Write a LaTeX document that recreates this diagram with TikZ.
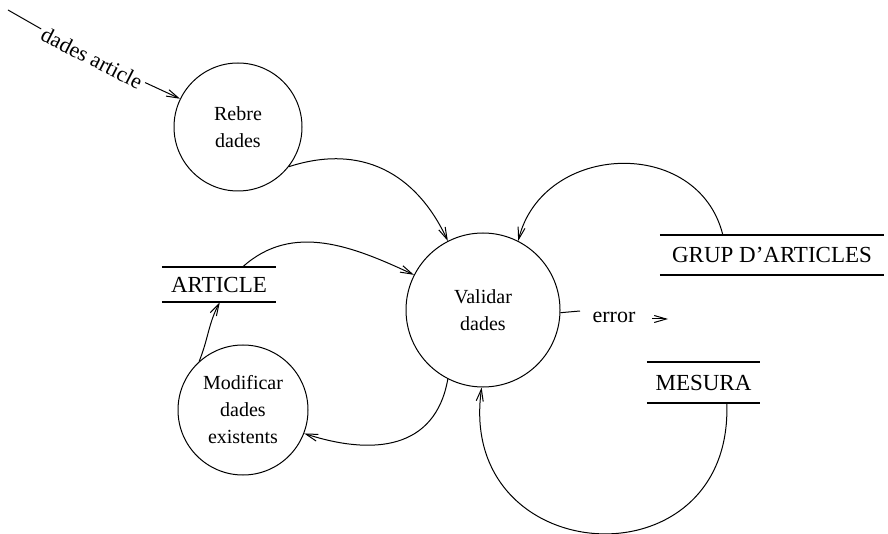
\documentclass[tikz,border=0pt]{standalone}
\usepackage{fontspec}
\setmainfont{Liberation Serif}
\usetikzlibrary{arrows.meta}
\begin{document}
\begin{tikzpicture}[x=1pt,y=1pt,
  conn/.style={line width=1pt},
  arr/.style={conn,-{Straight Barb[length=12pt,width=7pt,line width=1pt]}},
  process/.style={circle,draw,line width=1pt,inner sep=0pt,align=center,
    font=\fontsize{20}{27}\selectfont},
  store/.style={inner sep=0pt,font=\fontsize{23}{26}\selectfont},
  storeline/.style={line width=2.4pt},
  flowlabel/.style={inner sep=3pt,font=\fontsize{22}{24}\selectfont}]
\useasboundingbox (0,0) rectangle (888,533);

% processes
\node[process,minimum size=128pt] (rebre) at (238,406) {Rebre\\dades};
\node[process,minimum size=154pt] (valid) at (483,223) {Validar\\dades};
\node[process,minimum size=130pt] (modif) at (243,123) {Modificar\\dades\\existents};

% data stores
\node[store,minimum width=114pt,minimum height=35pt] (article) at (219,248.5) {ARTICLE};
\node[store,minimum width=224pt,minimum height=40pt] (grup) at (772,278) {GRUP D'ARTICLES};
\node[store,minimum width=113pt,minimum height=41pt] (mesura) at (703.5,150.5) {MESURA};
\foreach \s in {article,grup,mesura}
  \draw[storeline] (\s.north west) -- (\s.north east)
                   (\s.south west) -- (\s.south east);

% incoming flow
\coordinate (in0) at (8,523);
\node[flowlabel,rotate=-27] (lbl) at (92,475) {dades article};
\draw[arr] (in0) -- (lbl) -- (rebre.154);

% flows between processes and stores
\draw[arr] (rebre.-38) to[out=18,in=115,looseness=1.1] (valid.117);

\coordinate (gtop) at ([xshift=63pt]grup.north west);
\draw[arr] (gtop) .. controls +(104:102) and +(76:102) .. (valid.63);

\coordinate (atop) at ([xshift=81pt]article.north west);
\draw[arr] (atop) to[out=42,in=155] (valid.153);

\draw[arr] (valid.-117) to[out=-100,in=-18,looseness=1.2] (modif.-21);

\coordinate (abot) at ([xshift=58pt]article.south west);
\draw[arr] (modif.132) to[out=68,in=-118] (abot);

\coordinate (mbot) at ([xshift=80pt]mesura.south west);
\draw[arr] (mbot) .. controls +(-88:185) and +(-98:185) .. (valid.-91);

% error output
\coordinate (etick) at (580,222);
\draw[conn] (valid.-2) -- (etick);
\node[flowlabel,inner sep=0pt] (errlbl) at (614,216) {error};
\coordinate (ea) at (652,214);
\coordinate (eb) at (668,214);
\draw[arr] (ea) -- (eb);
\end{tikzpicture}
\end{document}
